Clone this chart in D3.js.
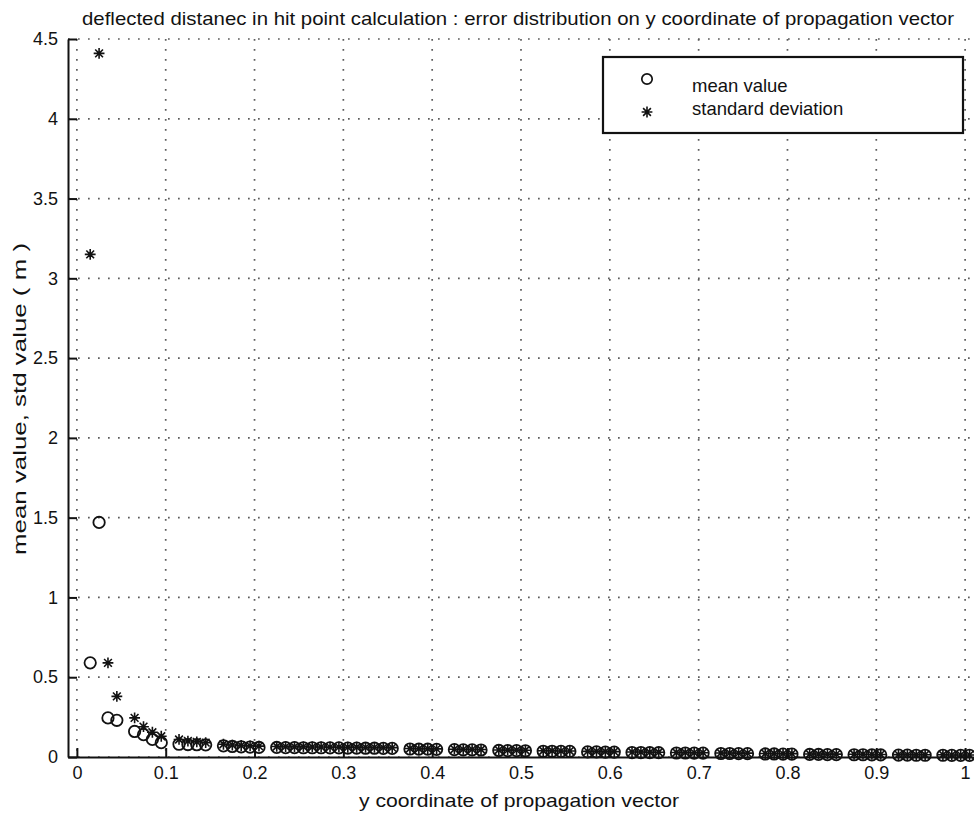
<!DOCTYPE html>
<html>
<head>
<meta charset="utf-8">
<script src="https://cdn.jsdelivr.net/npm/d3@7"></script>
<style>
  html, body { margin: 0; padding: 0; background: #fff; }
  svg { display: block; font-family: "Liberation Sans", Arial, Helvetica, sans-serif; }
</style>
</head>
<body>
<svg id="chart" width="974" height="817"></svg>
<script>
// y component of the propagation vector for each sample bin
const yCoord = [
  0.015, 0.025, 0.035, 0.045, 0.065, 0.075, 0.085, 0.095,
  0.115, 0.125, 0.135, 0.145,
  0.165, 0.175, 0.185, 0.195, 0.205,
  0.225, 0.235, 0.245, 0.255, 0.265, 0.275, 0.285, 0.295, 0.305, 0.315, 0.325, 0.335, 0.345, 0.355,
  0.375, 0.385, 0.395, 0.405,
  0.425, 0.435, 0.445, 0.455,
  0.475, 0.485, 0.495, 0.505,
  0.525, 0.535, 0.545, 0.555,
  0.575, 0.585, 0.595, 0.605,
  0.625, 0.635, 0.645, 0.655,
  0.675, 0.685, 0.695, 0.705,
  0.725, 0.735, 0.745, 0.755,
  0.775, 0.785, 0.795, 0.805,
  0.825, 0.835, 0.845, 0.855,
  0.875, 0.885, 0.895, 0.905,
  0.925, 0.935, 0.945, 0.955,
  0.975, 0.985, 0.995, 1.005
];

// mean deflected distance (m)
const meanValue = [
  0.59, 1.47, 0.245, 0.23, 0.16, 0.14, 0.11, 0.09,
  0.080, 0.078, 0.077, 0.076,
  0.070, 0.066, 0.064, 0.062, 0.060,
  0.060, 0.059, 0.059, 0.058, 0.058, 0.058, 0.057, 0.057, 0.056, 0.056, 0.055, 0.055, 0.054, 0.054,
  0.050, 0.049, 0.049, 0.048,
  0.046, 0.045, 0.045, 0.044,
  0.041, 0.040, 0.040, 0.039,
  0.036, 0.036, 0.035, 0.035,
  0.032, 0.032, 0.031, 0.031,
  0.028, 0.028, 0.027, 0.027,
  0.025, 0.025, 0.024, 0.024,
  0.022, 0.022, 0.021, 0.021,
  0.019, 0.019, 0.018, 0.018,
  0.016, 0.016, 0.015, 0.015,
  0.014, 0.014, 0.013, 0.013,
  0.012, 0.012, 0.011, 0.011,
  0.011, 0.010, 0.010, 0.010
];

// standard deviation of the deflected distance (m)
const stdValue = [
  3.15, 4.41, 0.59, 0.38, 0.245, 0.19, 0.155, 0.13,
  0.110, 0.100, 0.095, 0.090,
  0.080, 0.075, 0.072, 0.070, 0.068,
  0.066, 0.065, 0.064, 0.064, 0.063, 0.063, 0.062, 0.062, 0.061, 0.061, 0.060, 0.060, 0.059, 0.059,
  0.053, 0.052, 0.052, 0.051,
  0.049, 0.048, 0.048, 0.047,
  0.044, 0.043, 0.043, 0.042,
  0.039, 0.039, 0.038, 0.038,
  0.035, 0.035, 0.034, 0.034,
  0.031, 0.031, 0.030, 0.030,
  0.028, 0.028, 0.027, 0.027,
  0.025, 0.025, 0.024, 0.024,
  0.022, 0.022, 0.021, 0.021,
  0.019, 0.019, 0.018, 0.018,
  0.017, 0.017, 0.016, 0.016,
  0.015, 0.015, 0.014, 0.014,
  0.014, 0.013, 0.013, 0.013
];

const xTickValues = [0, 0.1, 0.2, 0.3, 0.4, 0.5, 0.6, 0.7, 0.8, 0.9, 1];
const xTickLabels = ["0", "0.1", "0.2", "0.3", "0.4", "0.5", "0.6", "0.7", "0.8", "0.9", "1"];
const yTickValues = [0, 0.5, 1, 1.5, 2, 2.5, 3, 3.5, 4, 4.5];
const yTickLabels = ["0", "0.5", "1", "1.5", "2", "2.5", "3", "3.5", "4", "4.5"];

const legendLabels = ["mean value", "standard deviation"];
const titleText = "deflected distanec in hit point calculation : error distribution on y coordinate of propagation vector";
const xLabelText = "y coordinate of propagation vector";
const yLabelText = "mean value, std value ( m )";

const svg = d3.select("#chart");
const ink = "#121212";

const x = d3.scaleLinear().domain([-0.01, 1.01]).range([68, 974]);
const y = d3.scaleLinear().domain([0, 4.5]).range([757, 39]);

// dotted grid
const grid = svg.append("g").attr("stroke", "#5c5c5c").attr("stroke-width", 1.7)
  .attr("stroke-dasharray", "1.7,8.3").attr("fill", "none");
grid.selectAll("line.v").data(xTickValues).join("line")
  .attr("class", "v")
  .attr("x1", d => x(d)).attr("x2", d => x(d))
  .attr("y1", y(4.5)).attr("y2", y(0));
grid.selectAll("line.h").data(yTickValues).join("line")
  .attr("class", "h")
  .attr("x1", x(-0.01)).attr("x2", x(1.01))
  .attr("y1", d => y(d)).attr("y2", d => y(d));

// axes with inward ticks
const xAxis = d3.axisBottom(x).tickValues(xTickValues)
  .tickFormat((d, i) => xTickLabels[i]).tickSize(-9).tickPadding(9).tickSizeOuter(0);
const yAxis = d3.axisLeft(y).tickValues(yTickValues)
  .tickFormat((d, i) => yTickLabels[i]).tickSize(-9).tickPadding(10).tickSizeOuter(0);

const gx = svg.append("g").attr("transform", `translate(0,${y(0)})`).call(xAxis);
const gy = svg.append("g").attr("transform", `translate(${x(-0.01)},0)`).call(yAxis);
[gx, gy].forEach(g => {
  g.select(".domain").attr("stroke", ink).attr("stroke-width", 2);
  g.selectAll(".tick line").attr("stroke", ink).attr("stroke-width", 2);
  g.selectAll(".tick text").attr("fill", ink).attr("font-size", 18)
    .attr("font-family", "'Liberation Sans', Arial, sans-serif");
});

// asterisk marker path
function asterisk(r) {
  const d = r * 0.72;
  return `M${-r},0L${r},0M0,${-r}L0,${r}M${-d},${-d}L${d},${d}M${-d},${d}L${d},${-d}`;
}

const pts = yCoord.map((v, i) => ({ x: v, m: meanValue[i], s: stdValue[i] }));

// mean values as open circles
svg.append("g").selectAll("circle").data(pts).join("circle")
  .attr("cx", d => x(d.x)).attr("cy", d => y(d.m)).attr("r", 5.7)
  .attr("fill", "none").attr("stroke", ink).attr("stroke-width", 1.8);

// standard deviations as asterisks
svg.append("g").selectAll("path").data(pts).join("path")
  .attr("transform", d => `translate(${x(d.x)},${y(d.s)})`)
  .attr("d", asterisk(5.4))
  .attr("fill", "none").attr("stroke", ink).attr("stroke-width", 1.6);

// legend
const lg = svg.append("g");
lg.append("rect").attr("x", 603).attr("y", 57).attr("width", 360).attr("height", 76)
  .attr("fill", "#fff").attr("stroke", ink).attr("stroke-width", 2.2);
lg.append("circle").attr("cx", 647).attr("cy", 79).attr("r", 5.2)
  .attr("fill", "none").attr("stroke", ink).attr("stroke-width", 1.7);
lg.append("path").attr("transform", "translate(647,112)").attr("d", asterisk(5.4))
  .attr("fill", "none").attr("stroke", ink).attr("stroke-width", 1.6);
lg.selectAll("text").data(legendLabels).join("text")
  .attr("x", 692).attr("y", (d, i) => 92 + i * 23)
  .attr("font-size", 18.5).attr("fill", ink)
  .text(d => d);

// title and axis labels
svg.append("text").attr("x", 518).attr("y", 25).attr("text-anchor", "middle")
  .attr("font-size", 19).attr("fill", ink)
  .attr("textLength", 872).attr("lengthAdjust", "spacingAndGlyphs")
  .text(titleText);
svg.append("text").attr("x", 519).attr("y", 807).attr("text-anchor", "middle")
  .attr("font-size", 19).attr("fill", ink)
  .attr("textLength", 320).attr("lengthAdjust", "spacingAndGlyphs")
  .text(xLabelText);
svg.append("text").attr("transform", "translate(26,399) rotate(-90)")
  .attr("text-anchor", "middle")
  .attr("font-size", 18.5).attr("fill", ink)
  .attr("textLength", 312).attr("lengthAdjust", "spacingAndGlyphs")
  .text(yLabelText);
</script>
</body>
</html>
